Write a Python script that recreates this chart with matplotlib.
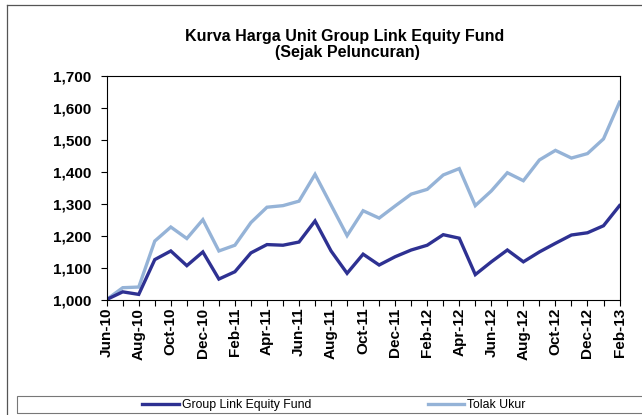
import numpy as np
import matplotlib
matplotlib.use("Agg")
import matplotlib.pyplot as plt
from matplotlib.lines import Line2D
from matplotlib.patches import Rectangle

plt.rcParams['font.family'] = ['Liberation Sans', 'DejaVu Sans']

# bulan dari Jun-10 s/d Feb-13
months = ['Jun-10', 'Jul-10', 'Aug-10', 'Sep-10', 'Oct-10', 'Nov-10', 'Dec-10',
          'Jan-11', 'Feb-11', 'Mar-11', 'Apr-11', 'May-11', 'Jun-11', 'Jul-11',
          'Aug-11', 'Sep-11', 'Oct-11', 'Nov-11', 'Dec-11', 'Jan-12', 'Feb-12',
          'Mar-12', 'Apr-12', 'May-12', 'Jun-12', 'Jul-12', 'Aug-12', 'Sep-12',
          'Oct-12', 'Nov-12', 'Dec-12', 'Jan-13', 'Feb-13']

fund = [1000, 1024, 1016, 1125, 1152, 1106, 1149, 1064, 1087, 1146, 1172,
        1170, 1180, 1246, 1152, 1082, 1142, 1108, 1134, 1155, 1170, 1203,
        1192, 1078, 1118, 1155, 1118, 1149, 1176, 1202, 1209, 1231, 1294]

tolak_ukur = [1000, 1037, 1039, 1183, 1227, 1191, 1250, 1152, 1170, 1241, 1289,
              1294, 1308, 1392, 1296, 1200, 1278, 1255, 1293, 1330, 1345, 1390,
              1410, 1294, 1340, 1397, 1372, 1437, 1467, 1443, 1457, 1503, 1618]

x = np.arange(len(months))

fig = plt.figure(figsize=(6.42, 4.15), dpi=100)
ax = fig.add_axes([0.1662, 0.2783, 0.7988, 0.5386])

c_fund = '#2E3192'
c_tolak = '#95B3D7'
ax.plot(x, tolak_ukur, color=c_tolak, lw=2.4, solid_joinstyle='miter')
ax.plot(x, fund, color=c_fund, lw=2.4, solid_joinstyle='miter')

ax.set_xlim(0, len(months) - 1)
ax.set_ylim(1000, 1700)
ax.set_yticks(np.arange(1000, 1701, 100))
ax.set_yticklabels([f'{v:,}' for v in range(1000, 1701, 100)],
                   fontsize=11, fontweight='bold')
ax.set_xticks(x, minor=True)
ax.set_xticks(x[::2])
ax.set_xticklabels(months[::2], rotation=90, fontsize=11, fontweight='bold')
ax.tick_params(axis='both', which='both', direction='out', length=4, width=0.8)
ax.tick_params(axis='y', pad=7)
ax.tick_params(axis='x', pad=2)
for s in ax.spines.values():
    s.set_linewidth(0.8)

fig.text(345/642, 1 - 36/415, 'Kurva Harga Unit Group Link Equity Fund',
         ha='center', va='center', fontsize=11.5, fontweight='bold')
fig.text(347/642, 1 - 53/415, '(Sejak Peluncuran)',
         ha='center', va='center', fontsize=11.5, fontweight='bold')

# bingkai luar dan kotak legenda
fig.add_artist(Line2D([7/642, 1.0], [1 - 5/415, 1 - 5/415], color='#555555', lw=0.9))
fig.add_artist(Line2D([7/642, 7/642], [0, 1 - 5/415], color='#555555', lw=0.9))
fig.add_artist(Rectangle((17/642, 2/415), 1.0, 17/415, transform=fig.transFigure,
                         fill=False, edgecolor='#777777', lw=0.8))

handles = [Line2D([], [], color=c_fund, lw=2.4), Line2D([], [], color=c_tolak, lw=2.4)]
fig.legend(handles, ['Group Link Equity Fund', 'Tolak Ukur'], ncol=2,
           loc='center', bbox_to_anchor=(334/642, 1 - 405/415), frameon=False,
           prop={'family': ['Liberation Sans Narrow', 'Liberation Sans'], 'size': 8.8},
           handlelength=3.0, handletextpad=0.25, columnspacing=9.5)

fig.savefig('out.png', dpi=100)
